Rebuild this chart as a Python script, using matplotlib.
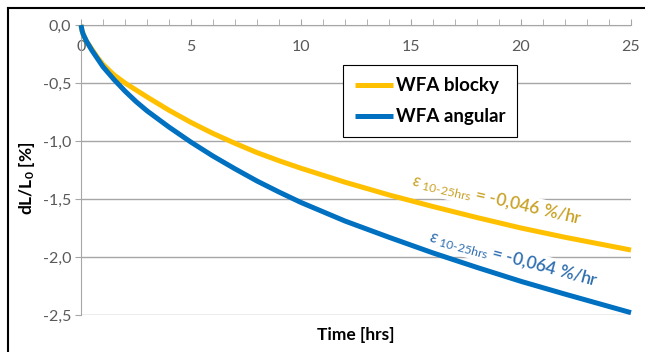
import matplotlib.pyplot as plt
from matplotlib.lines import Line2D
from matplotlib.ticker import MultipleLocator, FuncFormatter

plt.rcParams["font.family"] = ["Lato", "DejaVu Sans"]
plt.rcParams["mathtext.fontset"] = "custom"
plt.rcParams["mathtext.rm"] = "Lato"
plt.rcParams["mathtext.it"] = "Lato:italic"
plt.rcParams["mathtext.bf"] = "Lato:bold"

hours = [0, 0.05, 0.1, 0.25, 0.5, 0.75, 1, 1.5, 2, 2.5, 3, 4, 5, 6, 7, 8,
         9, 10, 12, 14, 16, 18, 20, 22, 25]
blocky = [0, -0.05, -0.08, -0.14, -0.21, -0.28, -0.34, -0.43, -0.50, -0.56,
          -0.62, -0.735, -0.84, -0.935, -1.02, -1.10, -1.17, -1.235, -1.355,
          -1.465, -1.565, -1.66, -1.75, -1.83, -1.94]
angular = [0, -0.05, -0.08, -0.14, -0.22, -0.29, -0.36, -0.47, -0.57, -0.66,
           -0.74, -0.88, -1.01, -1.13, -1.24, -1.345, -1.44, -1.53, -1.69,
           -1.83, -1.965, -2.09, -2.21, -2.32, -2.48]
names = ["WFA blocky", "WFA angular"]
rates = ["-0,046", "-0,064"]

yellow = "#FFC000"
blue = "#0070C0"
grey = "#A6A6A6"

fig = plt.figure(figsize=(6.45, 3.52), dpi=100)
ax = fig.add_axes([81 / 645, 1 - 315 / 352, 550 / 645, 290 / 352])

ax.plot(hours, blocky, color=yellow, lw=3.6, label=names[0], clip_on=False,
        solid_capstyle="butt", zorder=3)
ax.plot(hours, angular, color=blue, lw=3.6, label=names[1], clip_on=False,
        solid_capstyle="butt", zorder=4)

ax.set_xlim(0, 25)
ax.set_ylim(-2.5, 0)

# x axis sits on y = 0, labels underneath the line
ax.spines["bottom"].set_position(("data", 0))
ax.spines["bottom"].set_color(grey)
ax.spines["left"].set_color(grey)
ax.spines["top"].set_visible(False)
ax.spines["right"].set_visible(False)

ax.xaxis.set_major_locator(MultipleLocator(5))
ax.xaxis.set_minor_locator(MultipleLocator(1))
ax.yaxis.set_major_locator(MultipleLocator(0.5))
ax.yaxis.set_major_formatter(FuncFormatter(lambda v, p: f"{v:.1f}".replace(".", ",").replace("-0,0", "0,0")))

ax.tick_params(axis="x", which="both", direction="in", length=4, color=grey,
               labelsize=11.5, labelcolor="#595959", pad=11)
ax.tick_params(axis="y", direction="out", length=4, color=grey,
               labelsize=11.5, labelcolor="#595959", pad=3)

ax.grid(axis="y", color=grey, lw=1)
ax.set_axisbelow(True)

ax.set_xlabel("Time [hrs]", fontsize=12.5, fontweight="bold")
ax.xaxis.set_label_coords(0.5, -0.04)
ax.set_ylabel(r"dL/L$_\mathbf{0}$ [%]", fontsize=12.5, fontweight="bold")
ax.yaxis.set_label_coords(-0.08, 0.47)

leg = ax.legend(loc="upper left", bbox_to_anchor=(343 / 645, 1 - 65 / 352),
                bbox_transform=fig.transFigure, borderaxespad=0,
                fancybox=False, edgecolor="black", framealpha=1,
                prop={"weight": "bold", "size": 13.5}, handlelength=2.0,
                handletextpad=0.15, labelspacing=0.75, borderpad=0.65)
leg.get_frame().set_linewidth(0.8)

box = dict(facecolor="white", edgecolor="none", pad=1)
ax.text(497 / 645, 1 - 200 / 352,
        r"$\varepsilon_{\ \mathrm{10\text{-}25hrs}}$ = " + rates[0] + " %/hr",
        transform=fig.transFigure, rotation=-13, color="#C9A227",
        fontsize=12.5, fontweight="semibold", ha="center", va="center",
        rotation_mode="anchor", bbox=box, zorder=2.5)
ax.text(514 / 645, 1 - 259 / 352,
        r"$\varepsilon_{\ \mathrm{10\text{-}25hrs}}$ = " + rates[1] + " %/hr",
        transform=fig.transFigure, rotation=-15, color="#2E6EB0",
        fontsize=12.5, fontweight="semibold", ha="center", va="center",
        rotation_mode="anchor", bbox=box, zorder=2.5)

# outer frame of the original figure
fig.add_artist(Line2D([8 / 645, 8 / 645], [0, 1 - 8 / 352], color="black", lw=1.5))
fig.add_artist(Line2D([8 / 645, 1], [1 - 8 / 352, 1 - 8 / 352], color="black", lw=1.5))

fig.savefig("out.png", dpi=100)
